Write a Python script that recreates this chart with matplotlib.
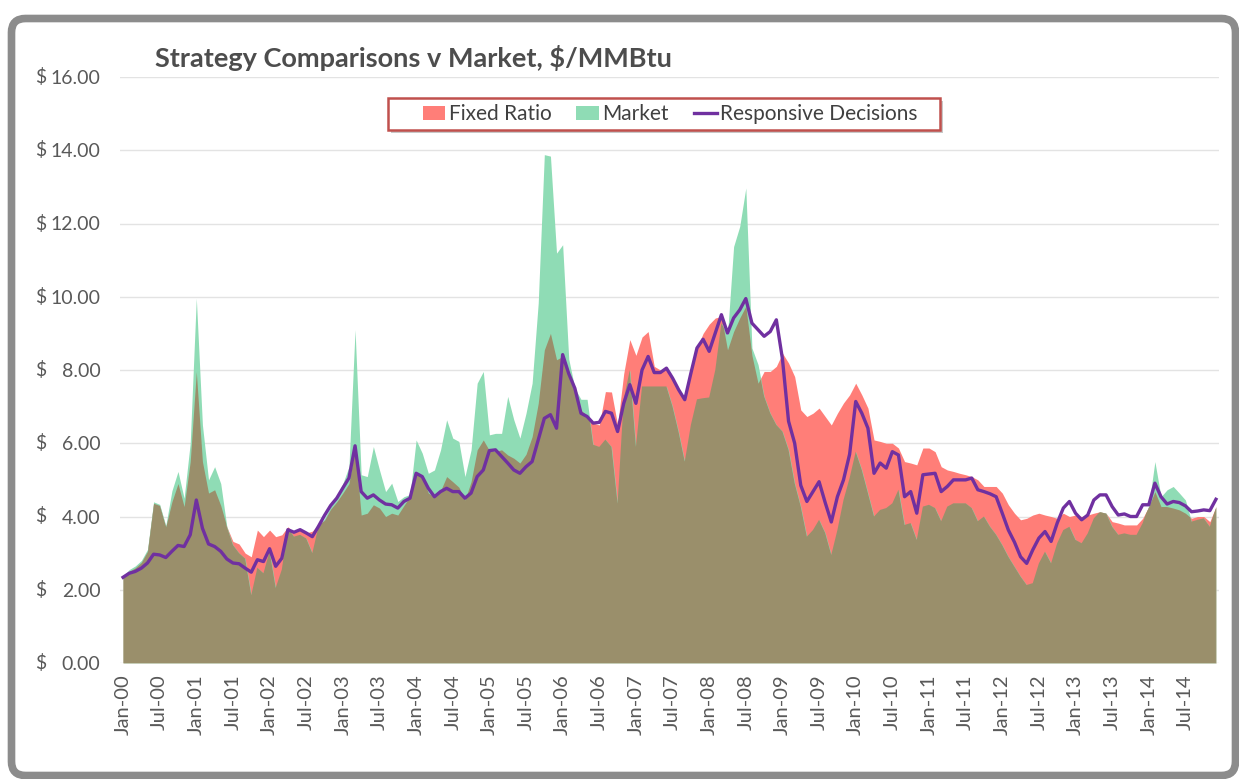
import numpy as np
import pandas as pd
import matplotlib
matplotlib.use("Agg")
import matplotlib.pyplot as plt
from matplotlib.patches import Patch, FancyBboxPatch, Rectangle
from matplotlib.lines import Line2D
from matplotlib.transforms import blended_transform_factory

plt.rcParams['font.family'] = ['Lato', 'DejaVu Sans']

# monthly data, Jan-00 .. Dec-14
months = pd.date_range("2000-01-01", periods=180, freq="MS")
month_labels = [d.strftime("%b-%y") for d in months]

fixed_ratio = [
    2.36, 2.50, 2.60, 2.75, 3.05, 4.36, 4.30, 3.72, 4.40, 4.90, 4.27, 5.50,
    7.95, 5.50, 4.64, 4.73, 4.30, 3.72, 3.32, 3.25, 3.00, 2.90, 3.63, 3.45,
    3.63, 3.45, 3.50, 3.72, 3.55, 3.63, 3.55, 3.60, 3.77, 3.90, 4.20, 4.40,
    4.64, 4.90, 5.90, 4.04, 4.09, 4.32, 4.23, 4.00, 4.09, 4.04, 4.30, 4.55,
    5.18, 5.09, 4.64, 4.54, 4.70, 5.09, 4.95, 4.80, 4.45, 4.95, 5.82, 6.09,
    5.80, 5.78, 5.82, 5.68, 5.59, 5.46, 5.70, 6.18, 7.09, 8.55, 9.00, 8.28,
    8.37, 7.80, 7.40, 6.90, 6.75, 6.55, 6.50, 7.41, 7.40, 6.50, 7.90, 8.83,
    8.40, 8.90, 9.05, 8.10, 8.00, 8.05, 7.80, 7.50, 7.20, 7.90, 8.60, 9.00,
    9.25, 9.42, 9.46, 8.55, 9.05, 9.42, 9.74, 8.40, 7.64, 7.96, 7.96, 8.10,
    8.46, 8.19, 7.82, 6.91, 6.73, 6.82, 6.96, 6.73, 6.50, 6.82, 7.10, 7.32,
    7.64, 7.32, 6.96, 6.09, 6.05, 6.00, 6.00, 5.87, 5.50, 5.46, 5.41, 5.87,
    5.87, 5.77, 5.36, 5.27, 5.23, 5.18, 5.14, 5.09, 5.00, 4.82, 4.82, 4.82,
    4.64, 4.32, 4.09, 3.91, 3.95, 4.04, 4.09, 4.04, 4.00, 3.95, 4.09, 4.00,
    4.04, 4.00, 4.04, 4.09, 4.13, 4.09, 3.86, 3.82, 3.77, 3.77, 3.77, 3.95,
    4.27, 4.68, 4.27, 4.27, 4.23, 4.18, 4.09, 3.95, 4.00, 4.00, 3.86, 4.27,
]

market = [
    2.36, 2.55, 2.65, 2.80, 3.10, 4.40, 4.33, 3.75, 4.70, 5.23, 4.50, 6.00,
    9.96, 6.50, 5.00, 5.36, 4.90, 3.72, 3.22, 3.00, 2.85, 1.85, 2.60, 2.45,
    3.05, 2.05, 2.55, 3.68, 3.45, 3.50, 3.40, 3.00, 3.72, 3.95, 4.27, 4.50,
    4.90, 5.36, 9.10, 5.14, 5.09, 5.91, 5.27, 4.68, 4.91, 4.41, 4.54, 4.60,
    6.09, 5.73, 5.18, 5.27, 5.82, 6.64, 6.14, 6.05, 5.09, 5.82, 7.64, 7.96,
    6.23, 6.27, 6.27, 7.28, 6.64, 6.14, 6.82, 7.64, 9.83, 13.88, 13.84, 11.19,
    11.42, 8.30, 7.50, 7.20, 7.20, 5.96, 5.90, 6.10, 5.90, 4.35, 7.20, 8.00,
    5.90, 7.55, 7.55, 7.55, 7.55, 7.55, 7.00, 6.30, 5.50, 6.50, 7.20, 7.23,
    7.25, 8.00, 9.28, 8.96, 11.37, 11.92, 12.97, 8.60, 8.15, 7.28, 6.82, 6.50,
    6.32, 5.82, 4.91, 4.27, 3.45, 3.63, 3.91, 3.55, 2.95, 3.63, 4.45, 5.05,
    5.77, 5.27, 4.64, 4.00, 4.18, 4.23, 4.36, 4.73, 3.77, 3.82, 3.36, 4.27,
    4.32, 4.23, 3.87, 4.27, 4.36, 4.36, 4.36, 4.23, 3.87, 4.00, 3.72, 3.50,
    3.22, 2.90, 2.63, 2.36, 2.13, 2.18, 2.72, 3.04, 2.72, 3.27, 3.63, 3.72,
    3.36, 3.27, 3.54, 3.95, 4.13, 4.09, 3.72, 3.50, 3.54, 3.50, 3.50, 3.82,
    4.30, 5.50, 4.54, 4.73, 4.82, 4.64, 4.45, 3.86, 3.91, 3.95, 3.72, 4.27,
]

responsive = [
    2.34, 2.45, 2.50, 2.59, 2.73, 2.97, 2.95, 2.88, 3.05, 3.21, 3.18, 3.50,
    4.45, 3.68, 3.25, 3.18, 3.05, 2.84, 2.73, 2.71, 2.59, 2.48, 2.82, 2.77,
    3.12, 2.64, 2.86, 3.64, 3.57, 3.64, 3.55, 3.45, 3.73, 4.03, 4.30, 4.50,
    4.78, 5.05, 5.93, 4.68, 4.50, 4.59, 4.45, 4.34, 4.32, 4.23, 4.41, 4.50,
    5.18, 5.09, 4.77, 4.54, 4.68, 4.77, 4.68, 4.68, 4.50, 4.64, 5.09, 5.27,
    5.80, 5.82, 5.64, 5.46, 5.27, 5.18, 5.36, 5.50, 6.09, 6.68, 6.78, 6.41,
    8.42, 7.90, 7.50, 6.82, 6.73, 6.55, 6.57, 6.87, 6.82, 6.32, 7.09, 7.60,
    7.09, 8.00, 8.37, 7.93, 7.93, 8.05, 7.78, 7.46, 7.19, 7.91, 8.60, 8.84,
    8.51, 9.01, 9.51, 9.01, 9.42, 9.64, 9.95, 9.28, 9.10, 8.92, 9.05, 9.37,
    8.30, 6.60, 6.00, 4.85, 4.41, 4.68, 4.95, 4.38, 3.85, 4.54, 5.00, 5.70,
    7.14, 6.82, 6.41, 5.18, 5.46, 5.32, 5.77, 5.68, 4.54, 4.68, 4.09, 5.14,
    5.16, 5.18, 4.68, 4.82, 5.00, 5.00, 5.00, 5.05, 4.73, 4.68, 4.62, 4.54,
    4.09, 3.63, 3.30, 2.90, 2.72, 3.09, 3.41, 3.59, 3.32, 3.82, 4.23, 4.41,
    4.09, 3.91, 4.04, 4.45, 4.59, 4.59, 4.27, 4.04, 4.07, 4.00, 4.00, 4.32,
    4.32, 4.91, 4.54, 4.34, 4.41, 4.38, 4.29, 4.13, 4.15, 4.18, 4.16, 4.47,
]

RED = "#FF7E78"
GREEN = "#8FDCB5"
OLIVE = "#9A8F6B"
PURPLE = "#7030A0"
TEXT = "#595959"

W, H = 1239, 779
fig = plt.figure(figsize=(W / 100, H / 100), dpi=100)
fig.patch.set_facecolor("white")

# rounded grey frame round the whole chart
frame = FancyBboxPatch((11.5 / 100, 3.5 / 100), 1224 / 100, 757 / 100,
                       boxstyle="round,pad=0,rounding_size=0.14",
                       transform=fig.dpi_scale_trans, facecolor="none",
                       edgecolor="#8C8C8C", linewidth=5.5, zorder=10)
fig.patches.append(frame)

ax = fig.add_axes([120 / W, 1 - 663 / H, 1099 / W, 586 / H])
ax.set_facecolor("none")

x = np.arange(len(months))
f = np.array(fixed_ratio)
m = np.array(market)

ax.fill_between(x, 0, f, color=RED, lw=0, zorder=2)
green_area = ax.fill_between(x, 0, m, color=GREEN, lw=0, zorder=2)
# overlap of the two areas
both = ax.fill_between(x, 0, f, color=OLIVE, lw=0, zorder=3)
both.set_clip_path(green_area.get_paths()[0], ax.transData)
ax.plot(x, responsive, color=PURPLE, lw=2.4, zorder=4, solid_joinstyle="round")

ax.set_xlim(-0.5, len(months) - 0.5)
ax.set_ylim(0, 16)

# accounting style: "$" on the left, number right-aligned
yticks = np.arange(0, 17, 2)
ax.set_yticks(yticks)
ax.set_yticklabels([f"{v:.2f}" for v in yticks])
trans = blended_transform_factory(ax.transAxes, ax.transData)
for v in yticks:
    ax.text(-0.077, v, "$", transform=trans, ha="left", va="center",
            fontsize=14, color=TEXT)

xt = x[::6]
ax.set_xticks(xt)
ax.set_xticklabels([month_labels[i] for i in xt], rotation=90)

ax.tick_params(axis="y", length=0, pad=14, labelsize=14, labelcolor=TEXT)
ax.tick_params(axis="x", length=0, pad=8, labelsize=14.5, labelcolor=TEXT)
ax.grid(axis="y", color="#E3E3E3", lw=1, zorder=1)
ax.set_axisbelow(True)
for s in ax.spines.values():
    s.set_visible(False)

fig.text(155 / W, 1 - 58 / H, "Strategy Comparisons v Market, $/MMBtu",
         ha="left", va="center", fontsize=19.5, fontweight="bold", color="#4D4D4D")

# legend box with a soft shadow
shadow = Rectangle((391 / W, 1 - 133 / H), 552 / W, 32 / H, transform=fig.transFigure,
                   facecolor="#C8C8C8", edgecolor="none", clip_on=False, zorder=4.6)
box = Rectangle((388 / W, 1 - 130 / H), 552 / W, 32 / H, transform=fig.transFigure,
                facecolor="white", edgecolor="#C0504D", lw=1.8, clip_on=False, zorder=4.7)
ax.add_artist(shadow)
ax.add_artist(box)

handles = [Patch(facecolor=RED, edgecolor="none"),
           Patch(facecolor=GREEN, edgecolor="none"),
           Line2D([], [], color=PURPLE, lw=2.4)]
labels = ["Fixed Ratio", "Market", "Responsive Decisions"]
leg = ax.legend(handles, labels, ncol=3, loc="center",
                bbox_to_anchor=(670 / W, 1 - 114 / H), bbox_transform=fig.transFigure,
                frameon=False, fontsize=15, borderpad=0, borderaxespad=0,
                handlelength=1.1, handleheight=0.65, handletextpad=0.15,
                columnspacing=1.2)
for t in leg.get_texts():
    t.set_color("#404040")

fig.savefig("out.png", dpi=100, facecolor="white")
